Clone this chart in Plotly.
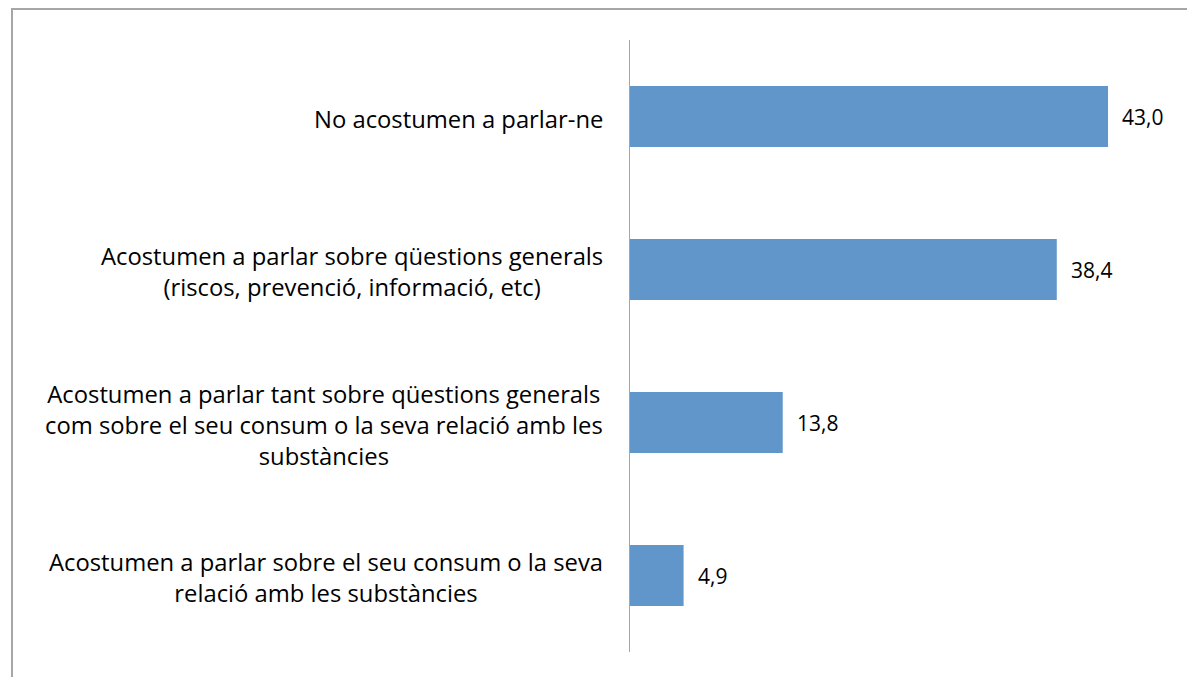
import plotly.graph_objects as go

categories = [
    "No acostumen a parlar-ne",
    "Acostumen a parlar sobre qüestions generals<br>(riscos, prevenció, informació, etc)",
    "Acostumen a parlar tant sobre qüestions generals<br>com sobre el seu consum o la seva relació amb les<br>substàncies",
    "Acostumen a parlar sobre el seu consum o la seva<br>relació amb les substàncies",
]
values = [43.0, 38.4, 13.8, 4.9]
value_labels = [f"{v:.1f}".replace(".", ",") for v in values]

FONT = "Open Sans, sans-serif"
BAR = "#6096C9"

# page body has an 8px offset
OFF = 8
W, H = 1195, 677
L = 629 - OFF
T = 40 - OFF
R = W - (1186 - OFF)
B = H - (652 - OFF)
pw, ph = W - L - R, H - T - B

fig = go.Figure(go.Bar(
    x=values, y=categories, orientation="h",
    marker=dict(color=BAR, line=dict(width=0)),
    width=0.4, hoverinfo="skip",
))

ann = []
for c, v, t in zip(categories, values, value_labels):
    ann.append(dict(x=0, xref="paper", y=c, yref="y", text=c, showarrow=False,
                    xanchor="right", yanchor="middle", align="center", xshift=-24,
                    yshift=-2,
                    font=dict(family=FONT, size=23.8, color="#000000")))
    ann.append(dict(x=v, xref="x", y=c, yref="y", text=t, showarrow=False,
                    xanchor="left", yanchor="middle", xshift=12,
                    font=dict(family=FONT, size=21, color="#000000")))

bx0, by0 = 12 - OFF, 9 - OFF
shapes = [dict(type="rect", xref="paper", yref="paper",
               x0=(bx0 - L) / pw, x1=(W + 30 - L) / pw,
               y0=(H - B - (H + 30)) / ph, y1=(H - B - by0) / ph,
               line=dict(color="#A6A6A6", width=2), fillcolor="rgba(0,0,0,0)", layer="below")]

fig.update_layout(
    width=W, height=H,
    margin=dict(l=L, r=R, t=T, b=B),
    paper_bgcolor="white", plot_bgcolor="white",
    showlegend=False,
    xaxis=dict(range=[0, 50], visible=False, fixedrange=True),
    yaxis=dict(categoryorder="array", categoryarray=categories[::-1],
               showticklabels=False, showgrid=False, zeroline=False,
               showline=False, ticks=""),
    annotations=ann,
    shapes=shapes + [dict(type="line", xref="x", yref="paper", x0=0, x1=0, y0=0, y1=1,
                          line=dict(color="#A6A6A6", width=2))],
)

fig.write_html("out.html")
